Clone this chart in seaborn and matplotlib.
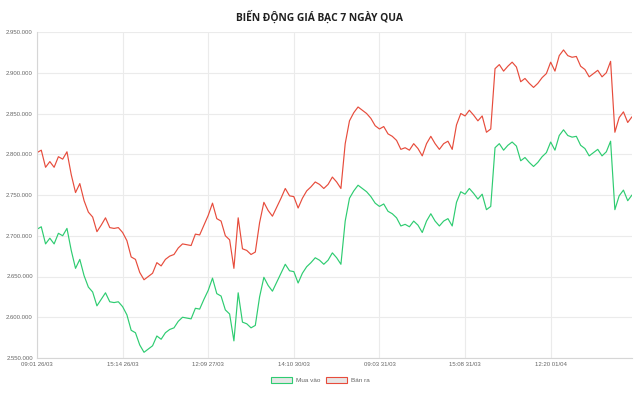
import numpy as np
import pandas as pd
import seaborn as sns
import matplotlib.pyplot as plt
from matplotlib.patches import Patch
from matplotlib.ticker import FuncFormatter, MultipleLocator

# gia bac (nghin dong), 140 diem lay mau trong 7 ngay
mua_vao = [2708, 2711, 2690, 2697, 2690, 2703, 2700, 2709, 2682, 2660,
           2671, 2651, 2637, 2631, 2614, 2622, 2630, 2619, 2618, 2619,
           2613, 2603, 2584, 2581, 2566, 2557, 2561, 2565, 2577, 2573,
           2581, 2585, 2587, 2595, 2600, 2599, 2598, 2611, 2610, 2622,
           2633, 2648, 2629, 2626, 2609, 2604, 2571, 2630, 2594, 2592,
           2587, 2590, 2625, 2649, 2639, 2632, 2643, 2654, 2665, 2657,
           2656, 2642, 2654, 2662, 2667, 2673, 2670, 2665, 2670, 2679,
           2673, 2665, 2718, 2746, 2755, 2762, 2758, 2754, 2748, 2740,
           2736, 2739, 2730, 2727, 2722, 2712, 2714, 2711, 2718, 2713,
           2704, 2718, 2727, 2718, 2712, 2718, 2721, 2712, 2741, 2754,
           2751, 2758, 2752, 2745, 2751, 2732, 2736, 2808, 2813, 2805,
           2811, 2815, 2810, 2792, 2796, 2790, 2785, 2790, 2797, 2802,
           2815, 2805, 2823, 2830, 2823, 2821, 2822, 2811, 2807, 2798,
           2802, 2806, 2798, 2803, 2816, 2732, 2749, 2756, 2743, 2750]

ban_ra = [2802, 2805, 2784, 2791, 2784, 2797, 2794, 2803, 2775, 2753,
          2764, 2743, 2729, 2723, 2705, 2713, 2722, 2710, 2709, 2710,
          2704, 2694, 2674, 2671, 2655, 2646, 2650, 2654, 2667, 2663,
          2671, 2675, 2677, 2685, 2690, 2689, 2688, 2702, 2701, 2713,
          2725, 2740, 2721, 2718, 2700, 2695, 2660, 2722, 2684, 2682,
          2677, 2680, 2716, 2741, 2731, 2724, 2735, 2746, 2758, 2749,
          2748, 2734, 2746, 2755, 2760, 2766, 2763, 2758, 2763, 2772,
          2766, 2758, 2813, 2841, 2851, 2858, 2854, 2850, 2844, 2835,
          2831, 2834, 2825, 2822, 2817, 2806, 2808, 2805, 2813, 2807,
          2798, 2813, 2822, 2813, 2806, 2813, 2816, 2806, 2836, 2850,
          2847, 2854, 2848, 2841, 2847, 2827, 2831, 2905, 2910, 2902,
          2908, 2913, 2907, 2889, 2893, 2887, 2882, 2887, 2894, 2899,
          2913, 2902, 2921, 2928, 2921, 2919, 2920, 2908, 2904, 2895,
          2899, 2903, 2895, 2900, 2914, 2827, 2845, 2852, 2839, 2846]

nhan_thoi_gian = ['09:01 26/03', '15:14 26/03', '12:09 27/03', '14:10 30/03',
                  '09:03 31/03', '15:08 31/03', '12:20 01/04']

df = pd.DataFrame({
    'diem': np.arange(len(mua_vao)),
    'Mua vào': np.array(mua_vao) * 1000,
    'Bán ra': np.array(ban_ra) * 1000,
})

xanh = '#2ecc71'
do = '#e74c3c'

sns.set_theme(style='white')
plt.rcParams['font.family'] = ['Liberation Sans', 'DejaVu Sans']

fig = plt.figure(figsize=(6.4, 3.97), dpi=100)
ax = fig.add_axes([37 / 640, 1 - 358 / 397, 595 / 640, 326 / 397])

sns.lineplot(data=df, x='diem', y='Mua vào', ax=ax, color=xanh, linewidth=0.85)
sns.lineplot(data=df, x='diem', y='Bán ra', ax=ax, color=do, linewidth=0.85)

ax.set_xlim(0, len(mua_vao) - 1)
ax.set_ylim(2550000, 2950000)
ax.yaxis.set_major_locator(MultipleLocator(50000))
ax.yaxis.set_major_formatter(FuncFormatter(lambda v, p: f'{int(v):,}'.replace(',', '.')))
ax.set_xticks(range(0, 140, 20))
ax.set_xticklabels(nhan_thoi_gian)
ax.set_xlabel('')
ax.set_ylabel('')

ax.grid(True, color='#ebebeb', linewidth=0.8)
ax.tick_params(axis='both', length=0, labelsize=4.3, colors='#666666', pad=3)
for s in ['top', 'right']:
    ax.spines[s].set_visible(False)
for s in ['left', 'bottom']:
    ax.spines[s].set_color('#d6d6d6')
    ax.spines[s].set_linewidth(0.8)

fig.suptitle('BIẾN ĐỘNG GIÁ BẠC 7 NGÀY QUA', y=1 - 17 / 397, va='center',
             fontsize=7.4, fontweight='bold', color='#222222', family=['Open Sans', 'DejaVu Sans'])

handles = [Patch(facecolor='#e6e6e6', edgecolor=xanh, linewidth=0.8, label='Mua vào'),
           Patch(facecolor='#e6e6e6', edgecolor=do, linewidth=0.8, label='Bán ra')]
fig.legend(handles=handles, loc='center', bbox_to_anchor=(0.5, 1 - 380 / 397), ncol=2,
           frameon=False, fontsize=4.6, handlelength=3.4, handleheight=1.1,
           handletextpad=0.5, columnspacing=0.9, labelcolor='#666666')

fig.savefig('out.png', dpi=100)
